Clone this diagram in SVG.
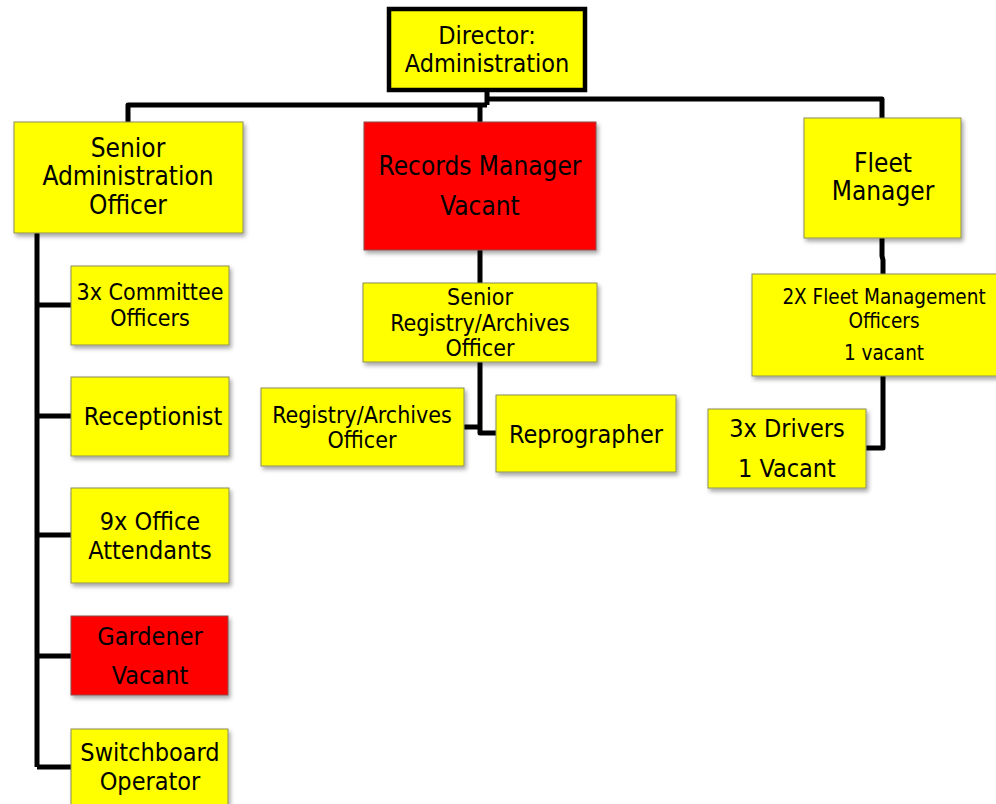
<svg xmlns="http://www.w3.org/2000/svg" width="996" height="804" viewBox="0 0 996 804">
  <defs>
    <filter id="shadow" x="-10%" y="-10%" width="125%" height="130%">
      <feDropShadow dx="2" dy="3" stdDeviation="2" flood-color="#000" flood-opacity="0.35"/>
    </filter>
  </defs>
  <style>
    text { font-family: "DejaVu Sans Condensed", "DejaVu Sans", sans-serif; font-stretch: condensed; fill: #000; text-anchor: middle; }
    .box { fill: #ffff00; stroke: #8c8c5a; stroke-width: 1; filter: url(#shadow); }
    .vac { fill: #ff0000; stroke: #8c4a4a; stroke-width: 1; filter: url(#shadow); }
    .top { fill: #ffff00; stroke: #000; stroke-width: 4.5; }
    .t26 { font-size: 26px; }
    .t25 { font-size: 25px; }
    .t23 { font-size: 23px; }
    .t21 { font-size: 20.5px; }
    .wire { fill: none; stroke: #000; stroke-width: 5; stroke-linejoin: round; stroke-linecap: butt; }
  </style>

  <rect width="996" height="804" fill="#ffffff"/>

  <!-- reporting lines -->
  <g id="connectors" class="wire">
    <path d="M487,90 V105"/>
    <path d="M487,105 H128 V122"/>
    <path d="M487,99 H882 V118"/>
    <path d="M480,105 V122"/>
    <path d="M37,233 V767"/>
    <path d="M37,305 H71"/>
    <path d="M37,416 H71"/>
    <path d="M37,535 H71"/>
    <path d="M37,656 H71"/>
    <path d="M37,767 H71"/>
    <path d="M480,250 V283"/>
    <path d="M480,362 V433 H496"/>
    <path d="M464,427 H480"/>
    <path d="M882,238 V256 L883,260 V274"/>
    <path d="M883,376 V448 H866"/>
  </g>

  <g id="director">
    <rect class="top" x="389" y="9" width="196" height="81"/>
    <text class="t25" x="487" y="44">Director:</text>
    <text class="t25" x="487" y="72">Administration</text>
  </g>

  <g id="senior-admin">
    <rect class="box" x="14" y="122" width="229" height="111"/>
    <text class="t26" x="128" y="157">Senior</text>
    <text class="t26" x="128" y="185">Administration</text>
    <text class="t26" x="128" y="214">Officer</text>
  </g>

  <g id="records-manager">
    <rect class="vac" x="364" y="122" width="232" height="128"/>
    <text class="t26" x="480" y="175">Records Manager</text>
    <text class="t26" x="480" y="215">Vacant</text>
  </g>

  <g id="fleet-manager">
    <rect class="box" x="804" y="118" width="157" height="120"/>
    <text class="t26" x="883" y="172">Fleet</text>
    <text class="t26" x="883" y="200">Manager</text>
  </g>

  <g id="committee-officers">
    <rect class="box" x="71" y="266" width="158" height="79"/>
    <text class="t23" x="150" y="300">3x Committee</text>
    <text class="t23" x="150" y="326">Officers</text>
  </g>

  <g id="receptionist">
    <rect class="box" x="71" y="377" width="158" height="79"/>
    <text class="t25" x="153" y="425">Receptionist</text>
  </g>

  <g id="office-attendants">
    <rect class="box" x="71" y="488" width="158" height="95"/>
    <text class="t25" x="150" y="530">9x Office</text>
    <text class="t25" x="150" y="559">Attendants</text>
  </g>

  <g id="gardener">
    <rect class="vac" x="71" y="616" width="157" height="79"/>
    <text class="t25" x="150" y="645">Gardener</text>
    <text class="t25" x="150" y="684">Vacant</text>
  </g>

  <g id="switchboard-operator">
    <rect class="box" x="71" y="729" width="157" height="90"/>
    <text class="t25" x="150" y="761">Switchboard</text>
    <text class="t25" x="150" y="790">Operator</text>
  </g>

  <g id="senior-registry">
    <rect class="box" x="363" y="283" width="234" height="79"/>
    <text class="t23" x="480" y="305">Senior</text>
    <text class="t23" x="480" y="331">Registry/Archives</text>
    <text class="t23" x="480" y="356">Officer</text>
  </g>

  <g id="registry-officer">
    <rect class="box" x="261" y="388" width="203" height="78"/>
    <text class="t23" x="362" y="423">Registry/Archives</text>
    <text class="t23" x="362" y="448">Officer</text>
  </g>

  <g id="reprographer">
    <rect class="box" x="496" y="395" width="180" height="77"/>
    <text class="t25" x="586" y="443">Reprographer</text>
  </g>

  <g id="fleet-officers">
    <rect class="box" x="752" y="274" width="260" height="102"/>
    <text class="t21" x="884" y="304">2X Fleet Management</text>
    <text class="t21" x="884" y="328">Officers</text>
    <text class="t21" x="884" y="360">1 vacant</text>
  </g>

  <g id="drivers">
    <rect class="box" x="708" y="409" width="158" height="79"/>
    <text class="t25" x="787" y="437">3x Drivers</text>
    <text class="t25" x="787" y="477">1 Vacant</text>
  </g>
</svg>
